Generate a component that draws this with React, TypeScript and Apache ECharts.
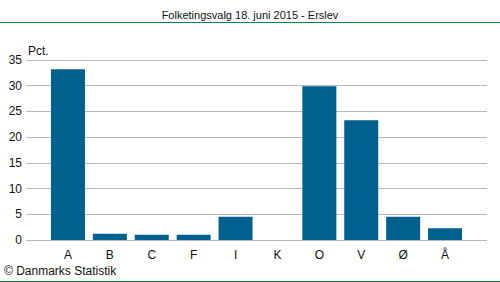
import React, { useEffect, useRef } from "react";
import * as echarts from "echarts";

const categories = ["A", "B", "C", "F", "I", "K", "O", "V", "Ø", "Å"];
const values = [33.2, 1.2, 1.0, 1.0, 4.5, 0, 29.9, 23.3, 4.5, 2.3];
const yTicks = { min: 0, max: 35, interval: 5 };
const title = "Folketingsvalg 18. juni 2015 - Erslev";
const unitLabel = "Pct.";
const credit = "© Danmarks Statistik";

const FONT = "'Liberation Sans', Arial, sans-serif";

export default function App() {
  const ref = useRef<HTMLDivElement>(null);
  useEffect(() => {
    const chart = echarts.init(ref.current!, null, { renderer: "svg" });
    chart.setOption({
      animation: false,
      backgroundColor: "#ffffff",
      grid: [
        { left: 47, right: 34, top: 60, bottom: 42 },
        { left: 26, right: 13, top: 60, bottom: 42 },
      ],
      xAxis: [
        {
          type: "category",
          gridIndex: 0,
          data: categories,
          axisLine: { show: false },
          axisTick: { show: false },
          axisLabel: { color: "#111", fontFamily: FONT, fontSize: 12, margin: 9 },
        },
        { type: "value", gridIndex: 1, show: false, min: 0, max: 1 },
      ],
      yAxis: [
        {
          type: "value",
          gridIndex: 0,
          min: yTicks.min,
          max: yTicks.max,
          interval: yTicks.interval,
          show: false,
        },
        {
          type: "value",
          gridIndex: 1,
          min: yTicks.min,
          max: yTicks.max,
          interval: yTicks.interval,
          axisLine: { show: false },
          axisTick: { show: false },
          axisLabel: { color: "#111", fontFamily: FONT, fontSize: 12, margin: 4 },
          splitLine: { lineStyle: { color: "#b8b8c4", width: 1 } },
        },
      ],
      series: [
        {
          type: "bar",
          xAxisIndex: 0,
          yAxisIndex: 0,
          data: values,
          barWidth: 34,
          itemStyle: { color: "#00618f" },
        },
      ],
      graphic: [
        {
          type: "text",
          left: "center",
          top: 9,
          style: { text: title, fontFamily: FONT, fontSize: 11, fill: "#111" },
        },
        {
          type: "line",
          shape: { x1: 0, y1: 22.5, x2: 500, y2: 22.5 },
          style: { stroke: "#008542", lineWidth: 1 },
        },
        {
          type: "text",
          left: 28,
          top: 45,
          style: { text: unitLabel, fontFamily: FONT, fontSize: 12, fill: "#111" },
        },
        {
          type: "text",
          left: 4,
          top: 265,
          style: { text: credit, fontFamily: FONT, fontSize: 12, fill: "#111" },
        },
        {
          type: "line",
          shape: { x1: 0, y1: 281.5, x2: 500, y2: 281.5 },
          style: { stroke: "#008542", lineWidth: 1 },
        },
      ],
    });
    return () => chart.dispose();
  }, []);
  return (
    <div
      ref={ref}
      style={{ position: "absolute", left: 0, top: 0, width: 500, height: 282 }}
    />
  );
}
